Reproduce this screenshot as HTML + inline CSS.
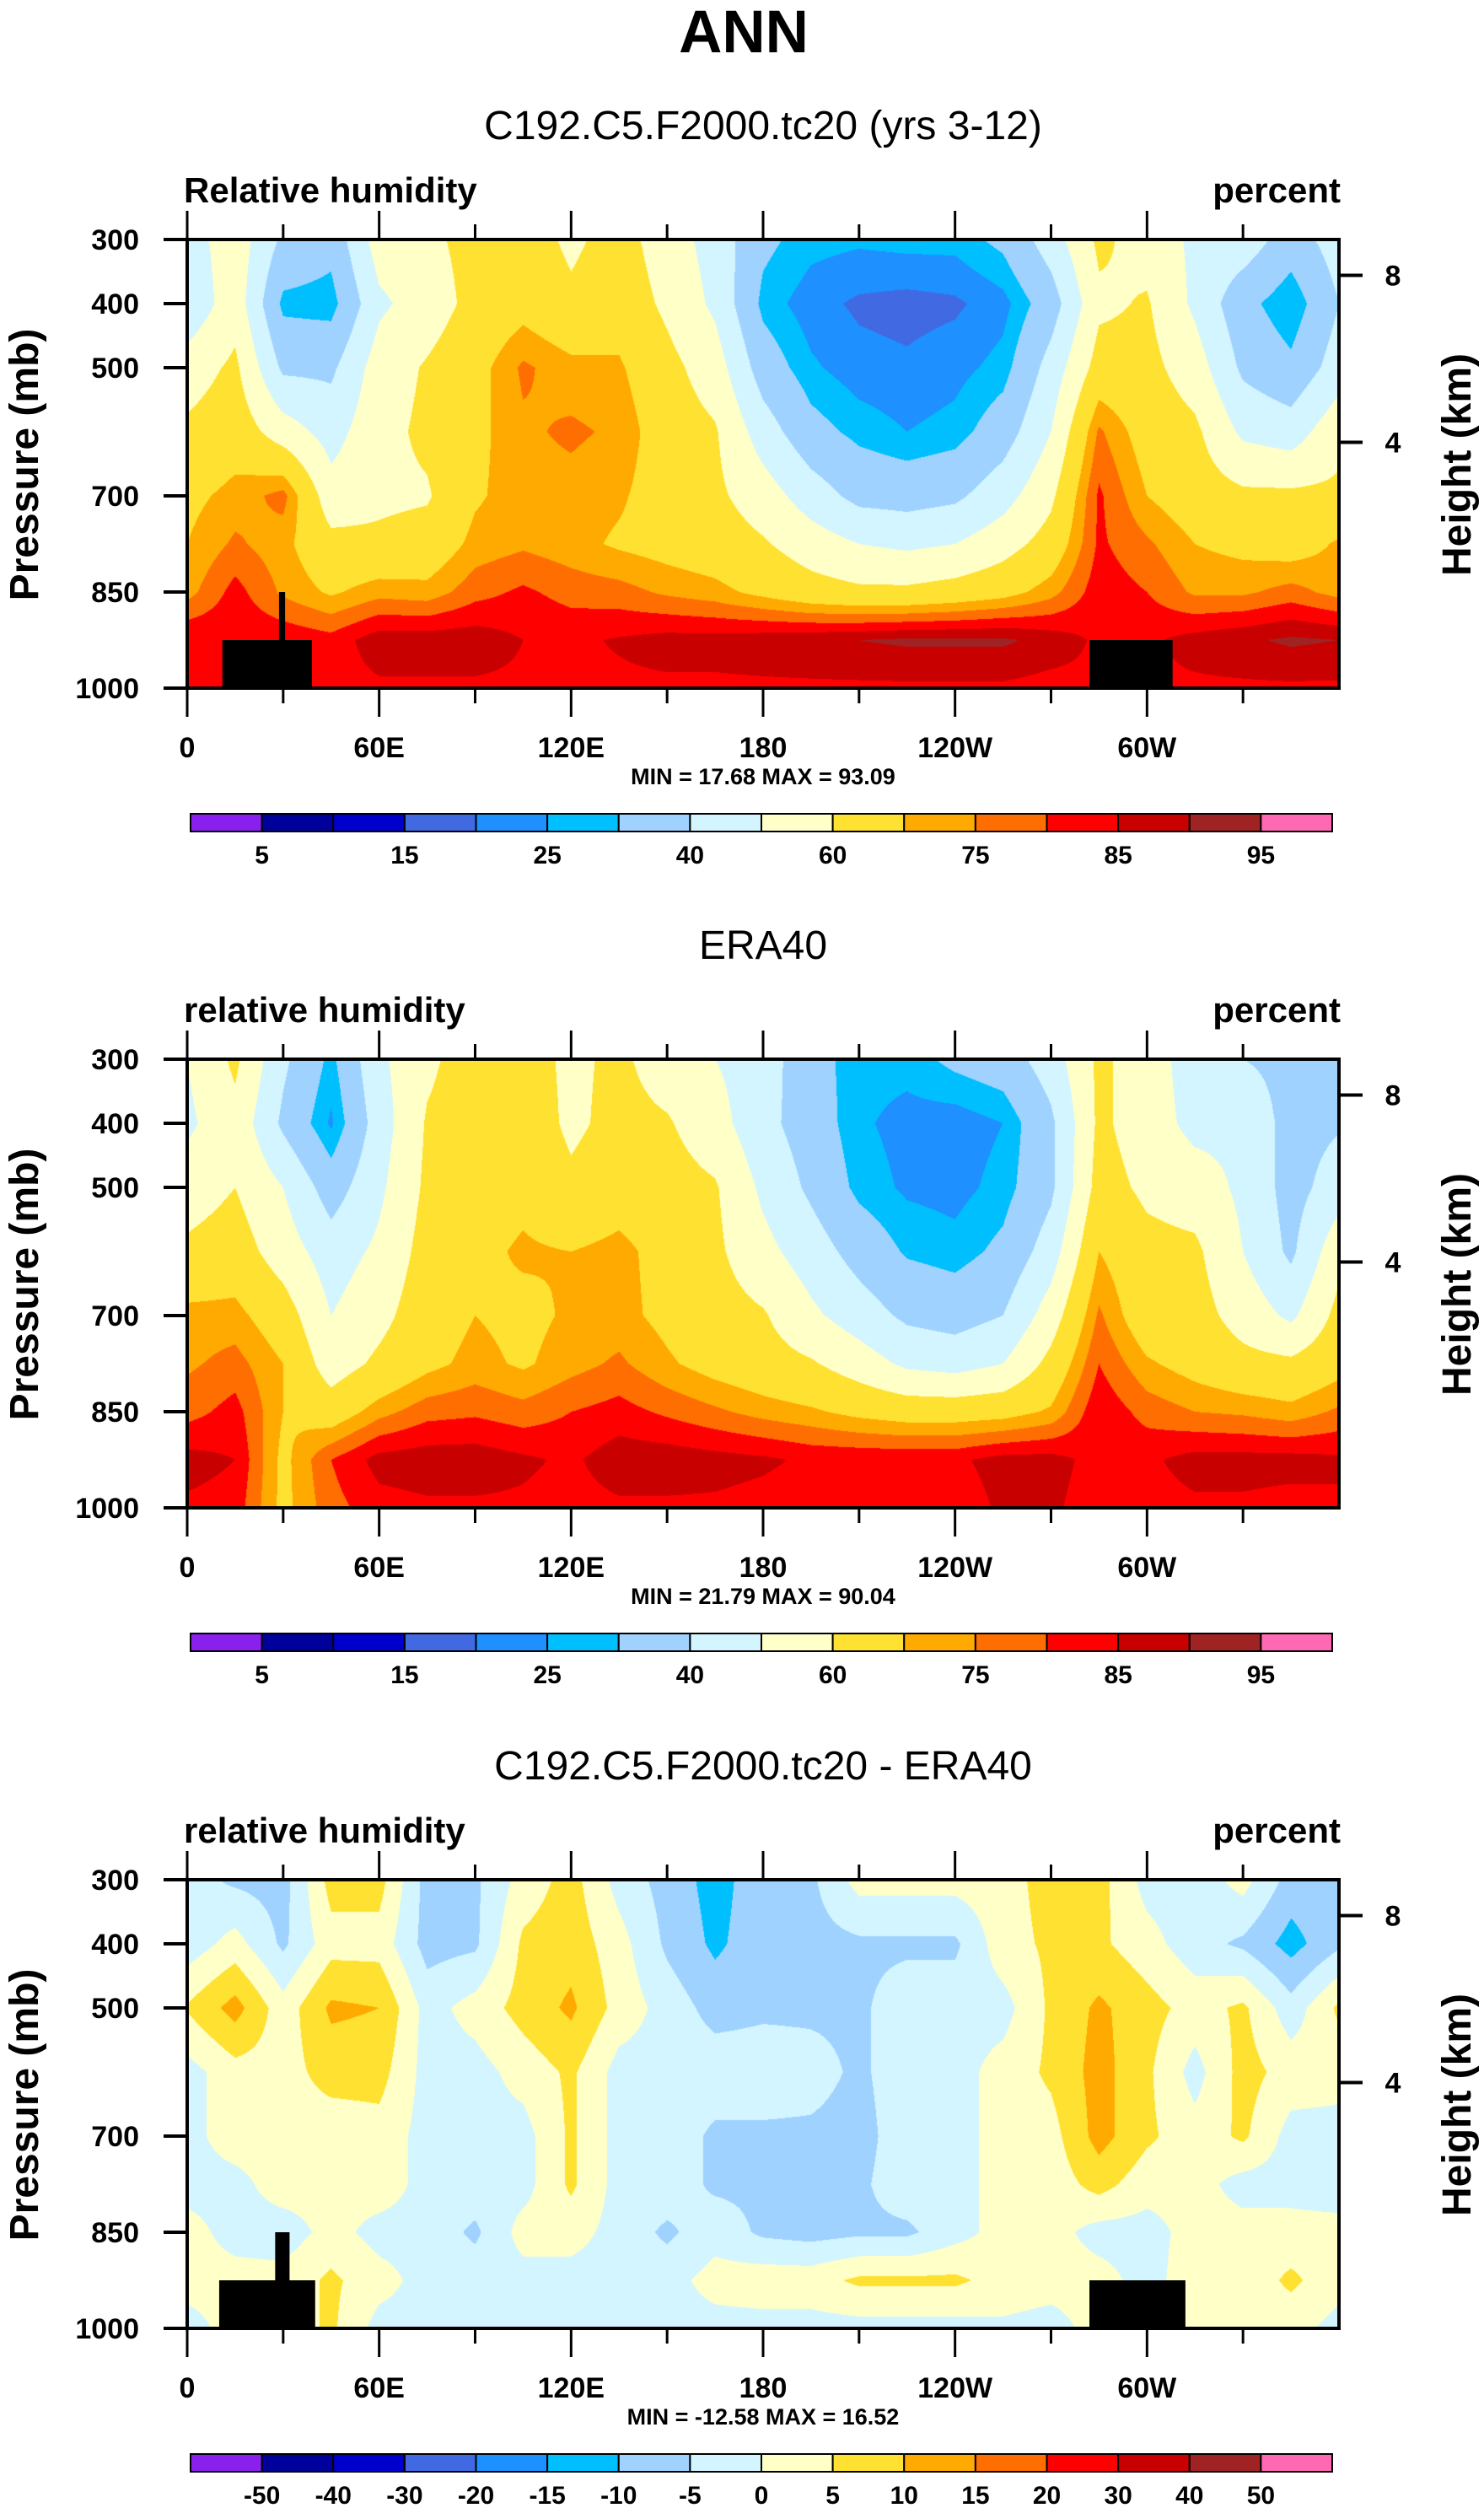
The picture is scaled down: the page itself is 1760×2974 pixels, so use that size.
<!DOCTYPE html>
<html><head><meta charset="utf-8">
<style>
html,body{margin:0;padding:0;background:#fff;}
#wrap{position:relative;width:1760px;height:2974px;overflow:hidden;background:#fff;}
canvas{position:absolute;}
svg{position:absolute;left:0;top:0;}
text{font-family:"Liberation Sans",Arial,sans-serif;}
</style></head>
<body>
<div id="wrap">
<canvas id="c0"></canvas>
<canvas id="c1"></canvas>
<canvas id="c2"></canvas>
<svg id="ov" width="1760" height="2974">
<text x="882" y="62" text-anchor="middle" font-size="71" font-weight="bold">ANN</text>
</svg>
</div>
<script>
// ---- data ----
const lons=[0,15,30,45,60,75,90,105,120,135,150,165,180,195,210,225,240,255,270,285,300,315,330,345,360];
const pLevels=[300,400,500,600,700,775,850,925,1000];
const modelRH=[
[45,56,38,33,55,58,63,65,58,64,55,46,32,27,26,27,27,32,45,62,56,48,46,35,45],
[42,56,28,27,48,55,63,67,62,66,58,48,28,22,19,18,19,23,35,58,61,48,33,25,40],
[55,62,38,38,55,61,67,76,72,71,63,55,35,26,22,21,23,27,44,64,63,55,38,32,45],
[62,66,55,46,57,62,68,74,76,74,65,61,45,33,28,25,27,35,50,76,66,62,48,45,57],
[68,72,77,54,58,59,69,73,73,71,66,62,55,45,37,36,38,46,58,81,70,65,62,62,62],
[70,76,72,63,62,64,72,74,72,69,67,65,61,55,50,48,50,56,64,81,76,70,68,66,71],
[73,82,74,69,73,72,78,81,78,77,74,72,68,64,62,62,64,67,73,83,80,74,74,77,73],
[85,84,84,82,88,88,88,85,84,85.5,87,87,88,89,90,91,91,91,88,84,84,87,89,91,90],
[84,84,84,83,84,84,84,84,84,84,84,84,84,84,84,84,84,84,83,84,84,84,84,84,84]];
const eraRH=[
[50,62,42,28,48,58,65,64,58,62,55,50,45,33,27,27,32,35,45,62,55,45,40,37,38],
[48,57,38,24,45,61,65,66,58,63,61,54,43,35,26,23,22,25,38,62,55,47,48,36,39],
[55,60,50,35,48,62,66,68,62,66,64,61,48,38,28,24,23,27,38,64,58,55,48,36,45],
[62,65,55,45,52,64,68,71,70,72,67,62,53,45,36,29,27,32,45,70,63,62,50,38,57],
[72,72,65,50,57,66,70,68,71,72,68,64,61,52,45,38,36,40,55,76,64,64,56,48,63],
[74,77,70,55,62,68,72,69,73,76,71,67,64,61,55,48,46,50,63,80,71,67,63,62,67],
[78,82,70,65,73,78,79,77,80,82,79,76,73,71,68,66,66,67,71,84,78,75,74,72,76],
[87,85,68,80,87,88,88,86,84,88,88,87,86,84,84,84,84,87,87,83,84,87,87,87,86],
[84,83,68,78,83,84,84,84,83,84,84,84,83,82,82,82,82,86,86,82,83,84,84,83,84]];
const diffRH=[
[-3,-6,-7,7,7,-7,-6,2,7,-2,-7,-12,-7,-6,2,2,2,3,7,7,-2,-3,2,-7,-6],
[-3,2,-6,3,3,-7,-6,6,8,2,-6,-11,-7,-7,-6,-6,-6,3,6,6,2,-3,-6,-12,-6],
[5.5,12,2,11,10,-2,2,7,11,3,-2,-7,-6,-6,-6,-2,-2,-2,6,11,7,3,6,-3,6],
[-2,3,3,7,7,-2,-2,2,6,-2,-2,-2,-2,-3,-6,-2,-2,2,6,12,6,-2,7,3,2],
[-2,3,3,2,3,-2,-2,-2,6,-2,-2,-6,-6,-6,-7,-2,-2,2,3,12,6,2,6,-2,-2],
[-2,-2,3,2,3,-2,-2,-2,6,-2,-2,-6,-6,-7,-6,-2,-2,2,2,7,2,2,-2,-2,-3],
[2,-2,-3,2,-2,-2,-6,2,2,-2,-6,-2,-6,-7,-6,-6,-2,2,2,-2,-2,2,2,2,2],
[2,2,2,6,2,-2,-2,-2,-2,-2,-2,2,3,3,6,6,6,3,2,2,-2,3,2,6,2],
[-2,2,2,6,-2,-2,-2,-2,-2,-2,-2,-2,-2,-2,-2,-2,-2,-1,-2,2,2,2,2,2,-2]];
const rhLevels=[5,10,15,20,25,30,40,50,60,70,75,80,85,90,95];
const diffLevels=[-50,-40,-30,-20,-15,-10,-5,0,5,10,15,20,30,40,50];
const palette=["#8a20ee","#00009a","#0000cd","#4169e1","#1e90ff","#00bfff","#a0d2ff","#d2f5ff","#ffffc8","#ffe132","#ffaa00","#ff6e00","#ff0000","#c80000","#a02323","#ff69b4"];
const pressureTicks=[300,400,500,700,850,1000];
const heightTicks=[8,4];
const lonTicks=[0,60,120,180,240,300];
const lonTickLabels=["0","60E","120E","180","120W","60W"];
const panelTitles=["C192.C5.F2000.tc20 (yrs 3-12)","ERA40","C192.C5.F2000.tc20 - ERA40"];
const leftLabels=["Relative humidity","relative humidity","relative humidity"];
const minMaxLabels=["MIN =  17.68  MAX =  93.09","MIN =  21.79  MAX =  90.04","MIN = -12.58  MAX =  16.52"];
// land masks: [lon0, lon1, pTop]
const masks=[
 [[11,39,925],[28.7,30.6,850],[282,308,925]],
 [],
 [[10,40,925],[27.5,32,850],[282,312,925]]];

// ---- layout ----
const PL=222, PW=1366, PH=532;
const tops=[284,1256,2229];
const fields=[modelRH,eraRH,diffRH];
const levelSets=[rhLevels,rhLevels,diffLevels];
const NS="http://www.w3.org/2000/svg";
const ov=document.getElementById('ov');
function xOf(lon){return PL+lon/360*PW;}
function yOf(p,top){return top+(p-300)/700*PH;}
function mk(tag,attrs,parent){const e=document.createElementNS(NS,tag);for(const k in attrs)e.setAttribute(k,attrs[k]);(parent||ov).appendChild(e);return e;}
function hex(c){return [parseInt(c.substr(1,2),16),parseInt(c.substr(3,2),16),parseInt(c.substr(5,2),16)];}
const rgb=palette.map(hex);
function colorIdx(v,lv){let i=0;while(i<lv.length&&v>=lv[i])i++;return i;}

function fieldAt(f,lon,p){
  let fi=lon/15; let i0=Math.min(Math.floor(fi),lons.length-2); let tx=fi-i0;
  let j0=0; while(j0<pLevels.length-2&&p>pLevels[j0+1])j0++;
  let ty=(p-pLevels[j0])/(pLevels[j0+1]-pLevels[j0]);
  const a=f[j0][i0],b=f[j0][i0+1],c=f[j0+1][i0],d=f[j0+1][i0+1];
  return (a*(1-tx)+b*tx)*(1-ty)+(c*(1-tx)+d*tx)*ty;
}

for(let k=0;k<3;k++){
  const cv=document.getElementById('c'+k);
  cv.width=PW;cv.height=PH;cv.style.left=PL+'px';cv.style.top=tops[k]+'px';
  const ctx=cv.getContext('2d');const im=ctx.createImageData(PW,PH);
  const f=fields[k],lv=levelSets[k];
  for(let y=0;y<PH;y++){const p=300+(y+0.5)/PH*700;
    for(let x=0;x<PW;x++){const lon=(x+0.5)/PW*360;
      const c=rgb[colorIdx(fieldAt(f,lon,p),lv)];const o=(y*PW+x)*4;
      im.data[o]=c[0];im.data[o+1]=c[1];im.data[o+2]=c[2];im.data[o+3]=255;}}
  ctx.putImageData(im,0,0);
}

for(let k=0;k<3;k++){
  const T=tops[k], B=T+PH, R=PL+PW, off=T-284;
  const g=mk('g',{});
  
  
  let t=mk('text',{x:905,y:165+off,'text-anchor':'middle','font-size':48},g);t.textContent=panelTitles[k];
  
  
  t=mk('text',{x:218,y:240+off,'font-size':42,'font-weight':'bold'},g);t.textContent=leftLabels[k];
  
  
  t=mk('text',{x:1590,y:240+off,'font-size':42,'font-weight':'bold','text-anchor':'end'},g);t.textContent='percent';
  
  
  masks[k].forEach(m=>{const r=mk('rect',{x:xOf(m[0]),y:yOf(m[2],T),width:xOf(m[1])-xOf(m[0]),height:B-yOf(m[2],T),fill:'#000'},g);
    
    });
  const fr=mk('rect',{x:PL,y:T,width:PW,height:PH,fill:'none',stroke:'#000','stroke-width':4},g);
  
  
  pressureTicks.forEach(p=>{const y=yOf(p,T);
    mk('line',{x1:PL-28,x2:PL,y1:y,y2:y,stroke:'#000','stroke-width':4},g);
    const l=mk('text',{x:165,y:y+12,'text-anchor':'end','font-size':34,'font-weight':'bold'},g);l.textContent=p;
    
    });
  heightTicks.forEach(h=>{const p=1013.25*Math.pow(1-2.25577e-5*h*1000,5.25588);const y=yOf(p,T);
    mk('line',{x1:R,x2:R+28,y1:y,y2:y,stroke:'#000','stroke-width':4},g);
    const l=mk('text',{x:1652,y:y+12,'text-anchor':'middle','font-size':34,'font-weight':'bold'},g);l.textContent=h;
    
    });
  for(let lon=0;lon<=330;lon+=30){const x=xOf(lon);const maj=lon%60===0;const L=maj?34:18;
    mk('line',{x1:x,x2:x,y1:T-L,y2:T,stroke:'#000','stroke-width':3},g);
    mk('line',{x1:x,x2:x,y1:B,y2:B+L,stroke:'#000','stroke-width':3},g);}
  lonTicks.forEach((lon,i)=>{const l=mk('text',{x:xOf(lon),y:B+82,'text-anchor':'middle','font-size':34,'font-weight':'bold'},g);
    l.textContent=lonTickLabels[i];
    
    });
  t=mk('text',{x:905,y:B+114,'text-anchor':'middle','font-size':27,'font-weight':'bold'},g);t.textContent=minMaxLabels[k];
  
  
  t=mk('text',{x:0,y:0,'text-anchor':'middle','font-size':48,'font-weight':'bold',transform:`translate(45,${T+267}) rotate(-90)`},g);t.textContent='Pressure (mb)';
  
  
  t=mk('text',{x:0,y:0,'text-anchor':'middle','font-size':48,'font-weight':'bold',transform:`translate(1744,${T+267}) rotate(-90)`},g);t.textContent='Height (km)';
  
  
  const cbX=226,cbW=1354,cbY=T+681,cbH=21,bw=cbW/16;
  const cb=mk('g',{},g);
  
  
  palette.forEach((c,i)=>{const r=mk('rect',{x:cbX+i*bw,y:cbY,width:bw,height:cbH,fill:c,stroke:'#000','stroke-width':2},cb);
    
    });
  const lv=levelSets[k];
  lv.forEach((v,i)=>{ if(k<2 && i%2===1) return;
    const l=mk('text',{x:cbX+(i+1)*bw,y:cbY+59,'text-anchor':'middle','font-size':30,'font-weight':'bold'},cb);l.textContent=v;
    
    });
}
</script>
</body></html>
